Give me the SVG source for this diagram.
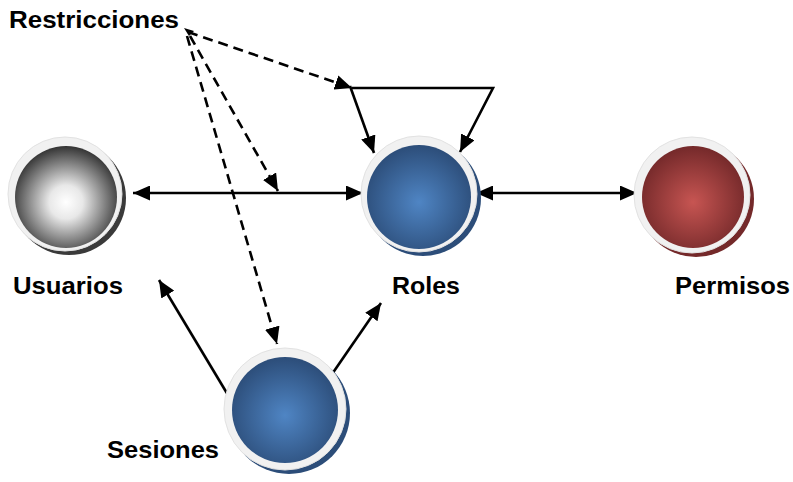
<svg xmlns="http://www.w3.org/2000/svg" width="793" height="482" viewBox="0 0 793 482">
  <style>
    .lbl { font-family: "Liberation Sans", Arial, sans-serif; font-weight: bold; font-size: 24px; fill: #000; }
    .ring { fill: #f1f1f1; stroke: #e2e2e2; stroke-width: 1; }
    .solid { fill: none; stroke: #000; stroke-width: 2.6; }
    .dash { fill: none; stroke: #000; stroke-width: 2.6; stroke-dasharray: 10 6; }
  </style>
  <defs>
    <radialGradient id="gBlue" cx="0.5" cy="0.55" r="0.55">
      <stop offset="0" stop-color="#4f85c4"/>
      <stop offset="1" stop-color="#2c4d79"/>
    </radialGradient>
    <radialGradient id="gRed" cx="0.5" cy="0.55" r="0.55">
      <stop offset="0" stop-color="#c75552"/>
      <stop offset="1" stop-color="#74292a"/>
    </radialGradient>
    <radialGradient id="gGrey" cx="0.5" cy="0.55" r="0.55">
      <stop offset="0" stop-color="#ffffff"/>
      <stop offset="0.3" stop-color="#e8e8e8"/>
      <stop offset="1" stop-color="#333333"/>
    </radialGradient>
    <marker id="arr" viewBox="0 0 17 15" refX="17" refY="7.5" markerWidth="17" markerHeight="15" orient="auto-start-reverse" markerUnits="userSpaceOnUse">
      <path d="M0,0 L17,7.5 L0,15 z" fill="#000" stroke="none"/>
    </marker>
  </defs>

  <!-- connectors -->
  <g id="connectors">
    <line class="solid" x1="133" y1="193" x2="363" y2="193" marker-start="url(#arr)" marker-end="url(#arr)"/>
    <line class="solid" x1="476" y1="193" x2="637" y2="193" marker-start="url(#arr)" marker-end="url(#arr)"/>
    <!-- bracket from the constraint point down onto Roles -->
    <polyline class="solid" points="352,88 493,88 460,152" marker-end="url(#arr)"/>
    <line class="solid" x1="350" y1="86" x2="374" y2="153" marker-end="url(#arr)"/>
    <!-- Sesiones links -->
    <line class="solid" x1="228" y1="395" x2="159" y2="280" marker-end="url(#arr)"/>
    <line class="solid" x1="330" y1="377" x2="381" y2="303" marker-end="url(#arr)"/>
    <!-- constraints (dashed) -->
    <line class="dash" x1="188" y1="32" x2="352" y2="88" marker-end="url(#arr)"/>
    <line class="dash" x1="190" y1="36" x2="278" y2="191" marker-end="url(#arr)"/>
    <line class="dash" x1="187" y1="36" x2="277" y2="344" marker-end="url(#arr)"/>
    <polygon points="184,28 194,31 189,36" fill="#000"/>
  </g>

  <g id="usuarios">
    <circle cx="69" cy="198" r="57" fill="#3a3a3a"/>
    <circle class="ring" cx="65" cy="194" r="57"/>
    <circle cx="66" cy="197" r="51" fill="url(#gGrey)"/>
    <text class="lbl" x="13" y="294" textLength="110" lengthAdjust="spacingAndGlyphs">Usuarios</text>
  </g>

  <g id="roles">
    <circle cx="423" cy="198" r="58" fill="#2c4d79"/>
    <circle class="ring" cx="419" cy="194" r="58"/>
    <circle cx="419" cy="197" r="52" fill="url(#gBlue)"/>
    <text class="lbl" x="392" y="294" textLength="68" lengthAdjust="spacingAndGlyphs">Roles</text>
  </g>

  <g id="permisos">
    <circle cx="696" cy="199" r="58" fill="#74292a"/>
    <circle class="ring" cx="692" cy="195" r="58"/>
    <circle cx="693" cy="197" r="51" fill="url(#gRed)"/>
    <text class="lbl" x="675" y="294" textLength="115" lengthAdjust="spacingAndGlyphs">Permisos</text>
  </g>

  <g id="sesiones">
    <circle cx="289" cy="413" r="61" fill="#2c4d79"/>
    <circle class="ring" cx="285" cy="409" r="61"/>
    <circle cx="285" cy="410" r="53" fill="url(#gBlue)"/>
    <text class="lbl" x="107" y="458" textLength="112" lengthAdjust="spacingAndGlyphs">Sesiones</text>
  </g>

  <g id="restricciones">
    <text class="lbl" x="9" y="28" style="font-size:23px" textLength="170" lengthAdjust="spacingAndGlyphs">Restricciones</text>
  </g>
</svg>
